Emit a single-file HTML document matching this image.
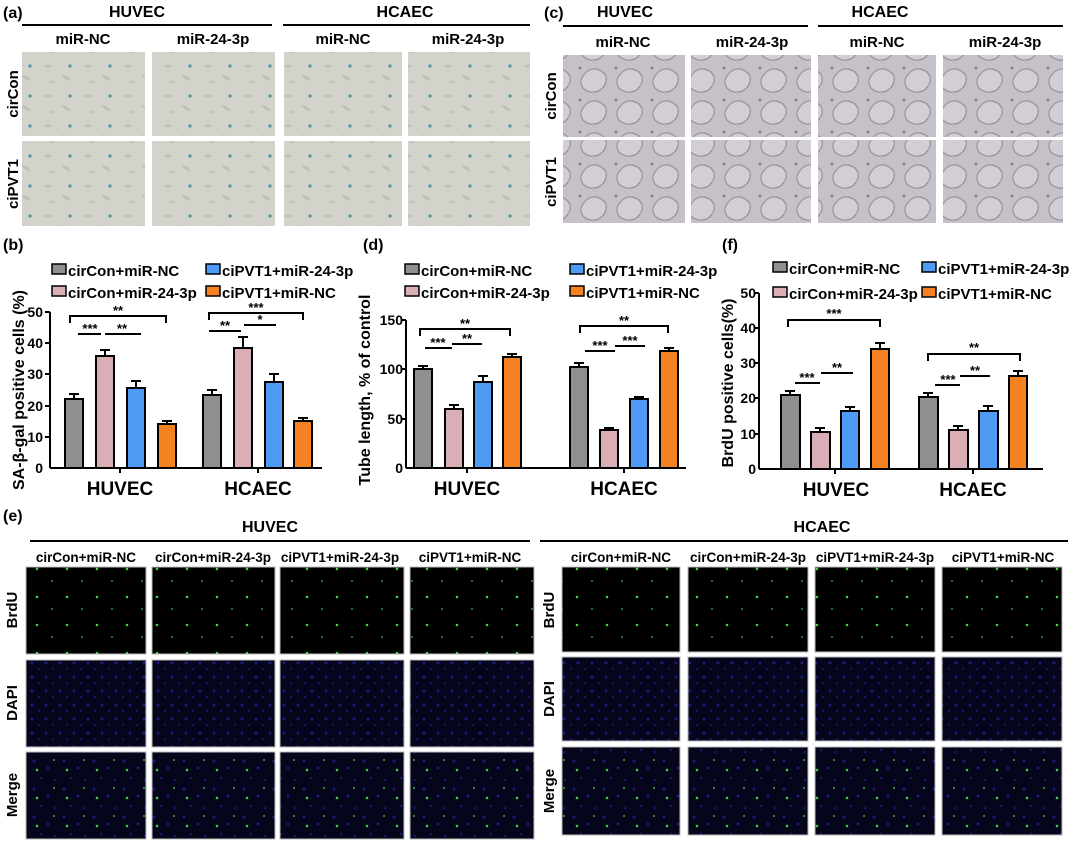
<!DOCTYPE html>
<html><head><meta charset="utf-8"><style>
html,body{margin:0;padding:0;background:#fff;}
svg{display:block;font-family:"Liberation Sans",Arial,sans-serif;font-weight:bold;}
</style></head><body>
<svg width="1080" height="849" viewBox="0 0 1080 849" xmlns="http://www.w3.org/2000/svg">
<defs>
<pattern id="pA" width="40" height="30" patternUnits="userSpaceOnUse">
<rect width="40" height="30" fill="#d2d3cb"/>
<ellipse cx="8" cy="6" rx="4" ry="1.5" fill="#c0c2ba"/>
<ellipse cx="26" cy="18" rx="5" ry="1.5" fill="#bdc0b8" transform="rotate(30 26 18)"/>
<circle cx="30" cy="6" r="1.6" fill="#5a90a4"/>
<ellipse cx="12" cy="22" rx="3" ry="1.3" fill="#c2c5bc"/>
</pattern>
<pattern id="pC" width="36" height="32" patternUnits="userSpaceOnUse">
<rect width="36" height="32" fill="#c6c0c8"/>
<path d="M5 16 Q10 4 20 5 Q32 8 30 18 Q26 29 15 28 Q4 26 5 16Z" fill="#d3ced5" stroke="#9a929e" stroke-width="1.2"/>
<circle cx="4" cy="4" r="1.5" fill="#8a828c"/>
</pattern>
<pattern id="pG" width="30" height="28" patternUnits="userSpaceOnUse">
<rect width="30" height="28" fill="#000"/>
<circle cx="7" cy="9" r="1.3" fill="#3fd04a"/>
<circle cx="22" cy="21" r="1" fill="#2a9a30"/>
</pattern>
<pattern id="pB" width="14" height="14" patternUnits="userSpaceOnUse">
<rect width="14" height="14" fill="#05051c"/>
<circle cx="4" cy="5" r="1.5" fill="#1c1c80"/>
<circle cx="11" cy="11" r="1.2" fill="#16166a"/>
</pattern>
<pattern id="pM" width="30" height="28" patternUnits="userSpaceOnUse">
<rect width="30" height="28" fill="#05051c"/>
<circle cx="4" cy="5" r="1.5" fill="#1c1c80"/><circle cx="18" cy="12" r="1.5" fill="#1c1c80"/><circle cx="11" cy="22" r="1.3" fill="#16166a"/><circle cx="25" cy="24" r="1.3" fill="#16166a"/>
<circle cx="7" cy="14" r="1.3" fill="#3fd04a"/>
<circle cx="24" cy="4" r="1" fill="#3ab048"/>
</pattern>
</defs>

<!-- Panel a -->
<text x="3" y="18" font-size="16">(a)</text>
<text x="137" y="17" font-size="16" text-anchor="middle">HUVEC</text>
<line x1="22" y1="25" x2="272" y2="25" stroke="#000" stroke-width="2"/>
<text x="405" y="17" font-size="16" text-anchor="middle">HCAEC</text>
<line x1="283" y1="25" x2="530" y2="25" stroke="#000" stroke-width="2"/>
<g font-size="15" text-anchor="middle">
<text x="83" y="44">miR-NC</text><text x="213" y="44">miR-24-3p</text>
<text x="343" y="44">miR-NC</text><text x="468" y="44">miR-24-3p</text>
</g>
<g fill="url(#pA)">
<rect x="22" y="52" width="123" height="84"/><rect x="152" y="52" width="123" height="84"/>
<rect x="284" y="52" width="118" height="84"/><rect x="408" y="52" width="122" height="84"/>
<rect x="22" y="141" width="123" height="85"/><rect x="152" y="141" width="123" height="85"/>
<rect x="284" y="141" width="118" height="85"/><rect x="408" y="141" width="122" height="85"/>
</g>
<g font-size="15" text-anchor="middle">
<text transform="translate(18 94) rotate(-90)">cirCon</text>
<text transform="translate(18 184) rotate(-90)">ciPVT1</text>
</g>

<!-- Panel c -->
<text x="544" y="18" font-size="16">(c)</text>
<text x="625" y="17" font-size="16" text-anchor="middle">HUVEC</text>
<line x1="563" y1="26" x2="808" y2="26" stroke="#000" stroke-width="2"/>
<text x="880" y="17" font-size="16" text-anchor="middle">HCAEC</text>
<line x1="818" y1="26" x2="1063" y2="26" stroke="#000" stroke-width="2"/>
<g font-size="15" text-anchor="middle">
<text x="623" y="47">miR-NC</text><text x="752" y="47">miR-24-3p</text>
<text x="877" y="47">miR-NC</text><text x="1005" y="47">miR-24-3p</text>
</g>
<g fill="url(#pC)">
<rect x="563" y="55" width="122" height="82"/><rect x="691" y="55" width="120" height="82"/>
<rect x="818" y="55" width="118" height="82"/><rect x="943" y="55" width="120" height="82"/>
<rect x="563" y="140" width="122" height="83"/><rect x="691" y="140" width="120" height="83"/>
<rect x="818" y="140" width="118" height="83"/><rect x="943" y="140" width="120" height="83"/>
</g>
<g font-size="15" text-anchor="middle">
<text transform="translate(556 96) rotate(-90)">cirCon</text>
<text transform="translate(556 182) rotate(-90)">ciPVT1</text>
</g>

<!-- Panel b -->
<text x="3" y="250" font-size="16">(b)</text>
<g font-size="15">
<rect x="52" y="264" width="14" height="10" fill="#8f8f8f" stroke="#000" stroke-width="1.5"/><text x="68" y="276">cirCon+miR-NC</text>
<rect x="52" y="286" width="14" height="10" fill="#d9aeb4" stroke="#000" stroke-width="1.5"/><text x="68" y="298">cirCon+miR-24-3p</text>
<rect x="206" y="264" width="14" height="10" fill="#4f9af5" stroke="#000" stroke-width="1.5"/><text x="222" y="276">ciPVT1+miR-24-3p</text>
<rect x="206" y="286" width="14" height="10" fill="#f58220" stroke="#000" stroke-width="1.5"/><text x="222" y="298">ciPVT1+miR-NC</text>
</g>
<text transform="translate(24 390) rotate(-90)" font-size="16" text-anchor="middle">SA-β-gal positive cells (%)</text>
<g stroke="#000" stroke-width="2">
<line x1="50" y1="312" x2="50" y2="468"/><line x1="50" y1="468" x2="322" y2="468"/>
<line x1="45" y1="312" x2="50" y2="312"/><line x1="45" y1="343" x2="50" y2="343"/><line x1="45" y1="374" x2="50" y2="374"/><line x1="45" y1="406" x2="50" y2="406"/><line x1="45" y1="437" x2="50" y2="437"/>
<line x1="120" y1="468" x2="120" y2="473"/><line x1="258" y1="468" x2="258" y2="473"/>
</g>
<g font-size="14" text-anchor="end">
<text x="43" y="317">50</text><text x="43" y="348">40</text><text x="43" y="379">30</text><text x="43" y="411">20</text><text x="43" y="442">10</text><text x="43" y="473">0</text>
</g>
<g stroke="#000" stroke-width="2">
<rect x="65" y="399" width="18" height="69" fill="#8f8f8f"/>
<rect x="96" y="356" width="18" height="112" fill="#d9aeb4"/>
<rect x="127" y="388" width="18" height="80" fill="#4f9af5"/>
<rect x="158" y="424" width="18" height="44" fill="#f58220"/>
<rect x="203" y="395" width="18" height="73" fill="#8f8f8f"/>
<rect x="234" y="348" width="18" height="120" fill="#d9aeb4"/>
<rect x="265" y="382" width="18" height="86" fill="#4f9af5"/>
<rect x="294" y="421" width="18" height="47" fill="#f58220"/>
<path d="M74 399v-5M69 394h10M105 356v-6M100 350h10M136 388v-7M131 381h10M167 424v-3M162 421h10M212 395v-5M207 390h10M243 348v-11M238 337h10M274 382v-8M269 374h10M303 421v-3M298 418h10" fill="none"/>
</g>
<g stroke="#000" stroke-width="2" fill="none">
<path d="M70 323v-7h96v7"/><path d="M78 334h23M105 334h36"/>
<path d="M209 320v-7h94v7"/><path d="M209 331h32M244 325h32"/>
</g>
<g font-size="13" text-anchor="middle">
<text x="118" y="315">**</text><text x="90" y="333">***</text><text x="122" y="333">**</text>
<text x="256" y="312">***</text><text x="225" y="330">**</text><text x="260" y="324">*</text>
</g>
<g font-size="19" text-anchor="middle"><text x="120" y="495">HUVEC</text><text x="258" y="495">HCAEC</text></g>

<!-- Panel d -->
<text x="363" y="250" font-size="16">(d)</text>
<g font-size="15">
<rect x="405" y="264" width="14" height="10" fill="#8f8f8f" stroke="#000" stroke-width="1.5"/><text x="421" y="276">cirCon+miR-NC</text>
<rect x="405" y="286" width="14" height="10" fill="#d9aeb4" stroke="#000" stroke-width="1.5"/><text x="421" y="298">cirCon+miR-24-3p</text>
<rect x="570" y="264" width="14" height="10" fill="#4f9af5" stroke="#000" stroke-width="1.5"/><text x="586" y="276">ciPVT1+miR-24-3p</text>
<rect x="570" y="286" width="14" height="10" fill="#f58220" stroke="#000" stroke-width="1.5"/><text x="586" y="298">ciPVT1+miR-NC</text>
</g>
<text transform="translate(370 390) rotate(-90)" font-size="16" text-anchor="middle">Tube length, % of control</text>
<g stroke="#000" stroke-width="2">
<line x1="406" y1="320" x2="406" y2="468"/><line x1="406" y1="468" x2="686" y2="468"/>
<line x1="401" y1="320" x2="406" y2="320"/><line x1="401" y1="369" x2="406" y2="369"/><line x1="401" y1="419" x2="406" y2="419"/>
<line x1="467" y1="468" x2="467" y2="473"/><line x1="624" y1="468" x2="624" y2="473"/>
</g>
<g font-size="14" text-anchor="end">
<text x="403" y="325">150</text><text x="403" y="374">100</text><text x="403" y="424">50</text><text x="403" y="473">0</text>
</g>
<g stroke="#000" stroke-width="2">
<rect x="414" y="369" width="18" height="99" fill="#8f8f8f"/>
<rect x="445" y="409" width="18" height="59" fill="#d9aeb4"/>
<rect x="474" y="382" width="18" height="86" fill="#4f9af5"/>
<rect x="503" y="357" width="18" height="111" fill="#f58220"/>
<rect x="570" y="367" width="18" height="101" fill="#8f8f8f"/>
<rect x="600" y="430" width="18" height="38" fill="#d9aeb4"/>
<rect x="630" y="399" width="18" height="69" fill="#4f9af5"/>
<rect x="660" y="351" width="18" height="117" fill="#f58220"/>
<path d="M423 369v-3M418 366h10M454 409v-4M449 405h10M483 382v-6M478 376h10M512 357v-3M507 354h10M579 367v-4M574 363h10M609 430v-2M604 428h10M639 399v-2M634 397h10M669 351v-3M664 348h10" fill="none"/>
</g>
<g stroke="#000" stroke-width="2" fill="none">
<path d="M420 336v-7h90v7"/><path d="M425 348h27M452 344h30"/>
<path d="M580 333v-7h88v7"/><path d="M585 351h30M615 346h30"/>
</g>
<g font-size="13" text-anchor="middle">
<text x="465" y="328">**</text><text x="438" y="347">***</text><text x="467" y="343">**</text>
<text x="624" y="325">**</text><text x="600" y="350">***</text><text x="630" y="345">***</text>
</g>
<g font-size="19" text-anchor="middle"><text x="467" y="495">HUVEC</text><text x="624" y="495">HCAEC</text></g>

<!-- Panel f -->
<text x="722" y="250" font-size="16">(f)</text>
<g font-size="15">
<rect x="773" y="262" width="14" height="10" fill="#8f8f8f" stroke="#000" stroke-width="1.5"/><text x="789" y="274">cirCon+miR-NC</text>
<rect x="773" y="287" width="14" height="10" fill="#d9aeb4" stroke="#000" stroke-width="1.5"/><text x="789" y="299">cirCon+miR-24-3p</text>
<rect x="922" y="262" width="14" height="10" fill="#4f9af5" stroke="#000" stroke-width="1.5"/><text x="938" y="274">ciPVT1+miR-24-3p</text>
<rect x="922" y="287" width="14" height="10" fill="#f58220" stroke="#000" stroke-width="1.5"/><text x="938" y="299">ciPVT1+miR-NC</text>
</g>
<text transform="translate(733 383) rotate(-90)" font-size="16" text-anchor="middle">BrdU positive cells(%)</text>
<g stroke="#000" stroke-width="2">
<line x1="759" y1="293" x2="759" y2="469"/><line x1="759" y1="469" x2="1043" y2="469"/>
<line x1="754" y1="293" x2="759" y2="293"/><line x1="754" y1="328" x2="759" y2="328"/><line x1="754" y1="363" x2="759" y2="363"/><line x1="754" y1="398" x2="759" y2="398"/><line x1="754" y1="434" x2="759" y2="434"/>
<line x1="835" y1="469" x2="835" y2="474"/><line x1="973" y1="469" x2="973" y2="474"/>
</g>
<g font-size="14" text-anchor="end">
<text x="756" y="298">50</text><text x="756" y="333">40</text><text x="756" y="368">30</text><text x="756" y="403">20</text><text x="756" y="439">10</text><text x="756" y="474">0</text>
</g>
<g stroke="#000" stroke-width="2">
<rect x="781" y="395" width="19" height="74" fill="#8f8f8f"/>
<rect x="811" y="432" width="19" height="37" fill="#d9aeb4"/>
<rect x="841" y="411" width="18" height="58" fill="#4f9af5"/>
<rect x="871" y="349" width="18" height="120" fill="#f58220"/>
<rect x="919" y="397" width="19" height="72" fill="#8f8f8f"/>
<rect x="949" y="430" width="19" height="39" fill="#d9aeb4"/>
<rect x="979" y="411" width="19" height="58" fill="#4f9af5"/>
<rect x="1009" y="376" width="18" height="93" fill="#f58220"/>
<path d="M790 395v-4M785 391h10M820 432v-4M815 428h10M850 411v-4M845 407h10M880 349v-6M875 343h10M928 397v-4M923 393h10M958 430v-4M953 426h10M988 411v-5M983 406h10M1018 376v-5M1013 371h10" fill="none"/>
</g>
<g stroke="#000" stroke-width="2" fill="none">
<path d="M788 327v-7h92v7"/><path d="M795 383h25M821 373h32"/>
<path d="M928 361v-7h92v7"/><path d="M935 385h25M960 376h30"/>
</g>
<g font-size="13" text-anchor="middle">
<text x="834" y="318">***</text><text x="807" y="382">***</text><text x="837" y="372">**</text>
<text x="974" y="352">**</text><text x="948" y="384">***</text><text x="975" y="375">**</text>
</g>
<g font-size="19" text-anchor="middle"><text x="836" y="496">HUVEC</text><text x="973" y="496">HCAEC</text></g>

<!-- Panel e -->
<text x="3" y="521" font-size="16">(e)</text>
<text x="270" y="532" font-size="16" text-anchor="middle">HUVEC</text>
<line x1="30" y1="541" x2="530" y2="541" stroke="#000" stroke-width="2"/>
<text x="822" y="532" font-size="16" text-anchor="middle">HCAEC</text>
<line x1="540" y1="541" x2="1068" y2="541" stroke="#000" stroke-width="2"/>
<g font-size="13.5" text-anchor="middle">
<text x="86" y="562">cirCon+miR-NC</text><text x="213" y="562">cirCon+miR-24-3p</text>
<text x="340" y="562">ciPVT1+miR-24-3p</text><text x="470" y="562">ciPVT1+miR-NC</text>
<text x="621" y="562">cirCon+miR-NC</text><text x="748" y="562">cirCon+miR-24-3p</text>
<text x="875" y="562">ciPVT1+miR-24-3p</text><text x="1003" y="562">ciPVT1+miR-NC</text>
</g>
<g stroke="#bbb" stroke-width="1">
<g fill="url(#pG)">
<rect x="26" y="567" width="120" height="87"/><rect x="152" y="567" width="123" height="87"/><rect x="280" y="567" width="124" height="87"/><rect x="410" y="567" width="124" height="87"/>
<rect x="562" y="567" width="118" height="85"/><rect x="688" y="567" width="120" height="85"/><rect x="815" y="567" width="120" height="85"/><rect x="942" y="567" width="120" height="85"/>
</g>
<g fill="url(#pB)">
<rect x="26" y="660" width="120" height="87"/><rect x="152" y="660" width="123" height="87"/><rect x="280" y="660" width="124" height="87"/><rect x="410" y="660" width="124" height="87"/>
<rect x="562" y="657" width="118" height="84"/><rect x="688" y="657" width="120" height="84"/><rect x="815" y="657" width="120" height="84"/><rect x="942" y="657" width="120" height="84"/>
</g>
<g fill="url(#pM)">
<rect x="26" y="752" width="120" height="87"/><rect x="152" y="752" width="123" height="87"/><rect x="280" y="752" width="124" height="87"/><rect x="410" y="752" width="124" height="87"/>
<rect x="562" y="747" width="118" height="88"/><rect x="688" y="747" width="120" height="88"/><rect x="815" y="747" width="120" height="88"/><rect x="942" y="747" width="120" height="88"/>
</g>
</g>
<g font-size="15" text-anchor="middle">
<text transform="translate(17 610) rotate(-90)">BrdU</text>
<text transform="translate(17 703) rotate(-90)">DAPI</text>
<text transform="translate(17 795) rotate(-90)">Merge</text>
<text transform="translate(554 610) rotate(-90)">BrdU</text>
<text transform="translate(554 699) rotate(-90)">DAPI</text>
<text transform="translate(554 791) rotate(-90)">Merge</text>
</g>
</svg>
</body></html>
